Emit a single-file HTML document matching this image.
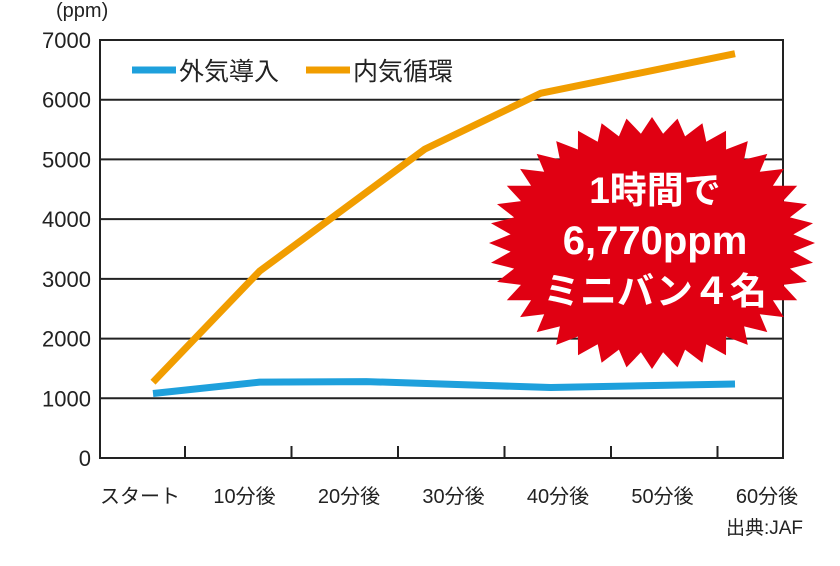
<!DOCTYPE html>
<html><head><meta charset="utf-8"><style>
body{margin:0;background:#fff;}
svg text{font-family:"Liberation Sans","Noto Sans CJK JP",sans-serif;}
</style></head><body>
<svg width="840" height="561" viewBox="0 0 840 561">
<g id="grid"></g>
<g id="yl"></g>
<g id="xl"></g>
<g id="lines"></g>
<text x="56" y="17" font-size="20" fill="#222">(ppm)</text>
<g>
<g>
<line x1="132" y1="70" x2="176" y2="70" stroke="#1ea0dc" stroke-width="7"/>
<text x="179" y="80" font-size="25" fill="#222">外気導入</text></g>
<g>
<line x1="306" y1="70" x2="350" y2="70" stroke="#f19d00" stroke-width="7"/>
<text x="353" y="80" font-size="25" fill="#222">内気循環</text></g>
</g>
<g>
<polygon id="star" fill="#e00012"/>
<text x="655" y="203" font-size="37" font-weight="bold" fill="#fff" text-anchor="middle">1時間で</text>
<text x="655" y="254" font-size="40" font-weight="bold" fill="#fff" text-anchor="middle">6,770ppm</text>
<text x="655" y="304" font-size="37" font-weight="bold" fill="#fff" text-anchor="middle">ミニバン４名</text>
</g>
<text x="803" y="534" font-size="19" fill="#222" text-anchor="end">出典:JAF</text>
</svg>
<script>
const yTicks=[0,1000,2000,3000,4000,5000,6000,7000];
const xCategories=["スタート","10分後","20分後","30分後","40分後","50分後","60分後"];
const outsideTimes=[0,11,22,41,60];
const outsideValues=[1080,1270,1280,1180,1240];
const recircTimes=[0,11,28,40,60];
const recircValues=[1270,3130,5170,6110,6770];
const L=100,R=783,T=40,B=458;
const ys=v=>B-(v/7000)*(B-T);
const xt=t=>153+t*9.7;
const NS="http://www.w3.org/2000/svg";
function mk(tag,at,p){const e=document.createElementNS(NS,tag);for(const k in at)e.setAttribute(k,at[k]);p.appendChild(e);return e;}
const grid=document.getElementById('grid'),yl=document.getElementById('yl'),xl=document.getElementById('xl'),lines=document.getElementById('lines');
yTicks.forEach(v=>{
 if(v>0&&v<7000){const g=mk('line',{x1:L,x2:R,y1:ys(v),y2:ys(v),stroke:'#222','stroke-width':2},grid);
 
 }
 const t=mk('text',{x:91,y:ys(v)+8,'font-size':22,fill:'#222','text-anchor':'end'},yl);t.textContent=v;
 
 
});
const fr=mk('rect',{x:L,y:T,width:R-L,height:B-T,fill:'none',stroke:'#222','stroke-width':2},grid);


xCategories.forEach((c,i)=>{
 const cx=140+i*104.5;
 const t=mk('text',{x:cx,y:503,'font-size':20,fill:'#222','text-anchor':'middle'},xl);t.textContent=c;
 
 
 if(i<6){const tk=mk('line',{x1:185+i*106.5,x2:185+i*106.5,y1:B,y2:B-12,stroke:'#222','stroke-width':2},grid);
 
 }
});
function series(times,vals,color,name){
 const p=mk('polyline',{points:times.map((t,i)=>xt(t)+','+ys(vals[i])).join(' '),fill:'none',stroke:color,'stroke-width':7,'stroke-linejoin':'round'},lines);
 
 
}
series(outsideTimes,outsideValues,'#1ea0dc','line-outside-air');
series(recircTimes,recircValues,'#f19d00','line-recirculation');
const n=40,cx=652,cy=243,rx=163,ry=126,pts=[];
for(let i=0;i<n*2;i++){const a=Math.PI*i/n;const r=i%2?0.87:1;pts.push((cx+rx*r*Math.cos(a)).toFixed(1)+','+(cy+ry*r*Math.sin(a)).toFixed(1));}
document.getElementById('star').setAttribute('points',pts.join(' '));
</script>
</body></html>
